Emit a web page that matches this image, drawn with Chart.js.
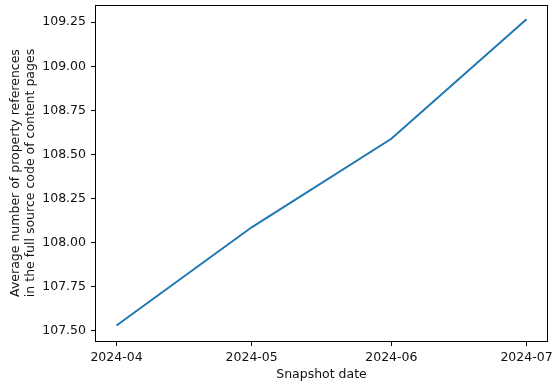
<!DOCTYPE html>
<html lang="en">
<head>
    <meta charset="UTF-8">
    <title>Average property references</title>
    <script src="https://cdn.jsdelivr.net/npm/chart.js"></script>
    <style>
        html, body { margin: 0; padding: 0; background: #fff; }
        .chart { width: 553px; height: 383px; }
    </style>
</head>
<body>
    <div class="chart">
        <canvas id="lineChart"></canvas>
    </div>
    <script>
        // Snapshot dates and values
        const snapshotDates = ['2024-04-01', '2024-05-01', '2024-06-01', '2024-07-01'];
        const avgReferences = [107.527, 108.085, 108.588, 109.267];
        const xTickLabels = ['2024-04', '2024-05', '2024-06', '2024-07'];
        const yTicks = [107.50, 107.75, 108.00, 108.25, 108.50, 108.75, 109.00, 109.25];

        // days since first snapshot, so spacing follows the calendar
        const day0 = Date.parse(snapshotDates[0]);
        const xDays = snapshotDates.map(d => (Date.parse(d) - day0) / 86400000);
        const span = xDays[xDays.length - 1] - xDays[0];

        const font = { family: 'DejaVu Sans', size: 12.5, lineHeight: 1.2 };

        // matplotlib-style frame round the plot area
        const frame = {
            id: 'frame',
            afterDraw(chart) {
                const { ctx, chartArea: a } = chart;
                ctx.save();
                ctx.strokeStyle = '#000';
                ctx.lineWidth = 1;
                ctx.strokeRect(Math.round(a.left) - 0.5, Math.round(a.top) + 0.5,
                    Math.round(a.right - a.left) + 1, Math.round(a.bottom - a.top));
                ctx.restore();
            }
        };

        const ctx = document.getElementById('lineChart').getContext('2d');
        new Chart(ctx, {
            type: 'line',
            data: {
                datasets: [{
                    data: xDays.map((x, i) => ({ x: x, y: avgReferences[i] })),
                    borderColor: '#1f77b4',
                    borderWidth: 2,
                    pointRadius: 0,
                    tension: 0,
                    fill: false
                }]
            },
            options: {
                responsive: true,
                maintainAspectRatio: false,
                animation: false,
                layout: { padding: { left: 0, right: 6, top: 5, bottom: 0 } },
                plugins: {
                    legend: { display: false },
                    tooltip: { enabled: false }
                },
                scales: {
                    x: {
                        type: 'linear',
                        min: xDays[0] - span * 0.05,
                        max: xDays[xDays.length - 1] + span * 0.05,
                        afterBuildTicks: s => { s.ticks = xDays.map(v => ({ value: v })); },
                        afterFit: s => { s.height = 42; s.paddingLeft = 0; s.paddingRight = 0; },
                        grid: { drawOnChartArea: false, tickLength: 5, color: '#000' },
                        border: { display: false },
                        ticks: {
                            color: '#111', font: font, padding: 4,
                            autoSkip: false, maxRotation: 0,
                            callback: (v, i) => xTickLabels[i]
                        },
                        title: {
                            display: true, text: 'Snapshot date',
                            color: '#111', font: font, padding: { top: 0, bottom: 1 }
                        }
                    },
                    y: {
                        min: 107.439,
                        max: 109.348,
                        afterBuildTicks: s => { s.ticks = yTicks.map(v => ({ value: v })); },
                        afterFit: s => { s.width = 96; s.paddingTop = 0; s.paddingBottom = 0; },
                        grid: { drawOnChartArea: false, tickLength: 5, color: '#000' },
                        border: { display: false },
                        ticks: {
                            color: '#111', font: font, padding: 5,
                            callback: v => v.toFixed(2)
                        },
                        title: {
                            display: true,
                            text: ['Average number of property references', 'in the full source code of content pages'],
                            color: '#111', font: font, padding: { top: 8, bottom: 0 }
                        }
                    }
                }
            },
            plugins: [frame]
        });
    </script>
</body>
</html>
